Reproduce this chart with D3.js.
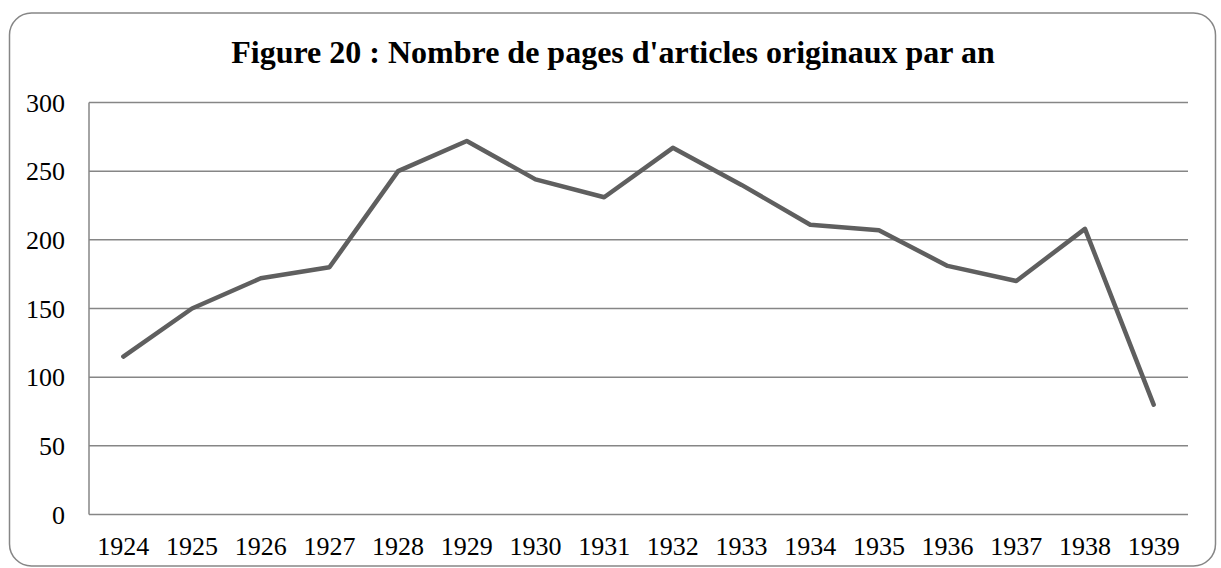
<!DOCTYPE html>
<html>
<head>
<meta charset="utf-8">
<script src="https://cdn.jsdelivr.net/npm/d3@7"></script>
<style>
  body { margin: 0; background: #fff; }
  svg { display: block; }
</style>
</head>
<body>
<svg></svg>
<script>
// Canvas size
const width = 1221;
const height = 568;

// Data
const years = ["1924", "1925", "1926", "1927", "1928", "1929", "1930", "1931",
               "1932", "1933", "1934", "1935", "1936", "1937", "1938", "1939"];
const pages = [115, 150, 172, 180, 250, 272, 244, 231, 267, 240, 211, 207, 181, 170, 208, 80];
const yTicks = [0, 50, 100, 150, 200, 250, 300];
const title = "Figure 20 : Nombre de pages d'articles originaux par an";

const margin = { top: 102.5, right: 33, bottom: 53.5, left: 89 };

const svg = d3.select("svg")
    .attr("width", width)
    .attr("height", height);

// Outer rounded frame
svg.append("rect")
    .attr("x", 9.5)
    .attr("y", 13)
    .attr("width", 1206)
    .attr("height", 553)
    .attr("rx", 22)
    .attr("fill", "#fff")
    .attr("stroke", "#868686")
    .attr("stroke-width", 1.5);

// Title
svg.append("text")
    .attr("x", 613)
    .attr("y", 63)
    .attr("text-anchor", "middle")
    .style("font-family", "'Liberation Serif', 'Times New Roman', serif")
    .style("font-weight", "bold")
    .style("font-size", "32px")
    .text(title);

// Scales
const x = d3.scaleBand()
    .domain(years)
    .range([margin.left, width - margin.right]);

const y = d3.scaleLinear()
    .domain([0, 300])
    .range([height - margin.bottom, margin.top]);

// Horizontal gridlines
svg.append("g")
    .selectAll("line")
    .data(yTicks)
    .join("line")
    .attr("x1", margin.left)
    .attr("x2", width - margin.right)
    .attr("y1", d => y(d))
    .attr("y2", d => y(d))
    .attr("stroke", "#868686")
    .attr("stroke-width", 1.5);

// Vertical axis line
svg.append("line")
    .attr("x1", margin.left)
    .attr("x2", margin.left)
    .attr("y1", y(300))
    .attr("y2", y(0))
    .attr("stroke", "#868686")
    .attr("stroke-width", 1.5);

// Y tick labels
svg.append("g")
    .selectAll("text")
    .data(yTicks)
    .join("text")
    .attr("x", 65)
    .attr("y", d => y(d))
    .attr("dy", "0.35em")
    .attr("text-anchor", "end")
    .style("font-family", "'Liberation Serif', 'Times New Roman', serif")
    .style("font-size", "26px")
    .text(d => d);

// X tick labels
svg.append("g")
    .selectAll("text")
    .data(years)
    .join("text")
    .attr("x", d => x(d) + x.bandwidth() / 2)
    .attr("y", 555)
    .attr("text-anchor", "middle")
    .style("font-family", "'Liberation Serif', 'Times New Roman', serif")
    .style("font-size", "26px")
    .text(d => d);

// The line
const line = d3.line()
    .x((d, i) => x(years[i]) + x.bandwidth() / 2)
    .y(d => y(d));

svg.append("path")
    .datum(pages)
    .attr("d", line)
    .attr("fill", "none")
    .attr("stroke", "#5f5f5f")
    .attr("stroke-width", 4.5)
    .attr("stroke-linejoin", "round")
    .attr("stroke-linecap", "round");
</script>
</body>
</html>
